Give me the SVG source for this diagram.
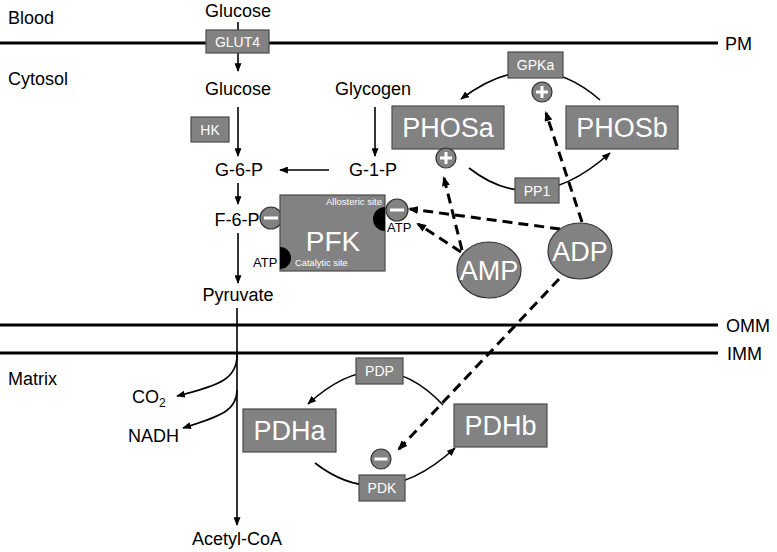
<svg xmlns="http://www.w3.org/2000/svg" width="777" height="552" viewBox="0 0 777 552">
<style>
text{font-family:"Liberation Sans",Arial,sans-serif;fill:#000}
.lbl{font-size:18px}
.c{text-anchor:middle}
.box{fill:#828282;stroke:#4a4a4a;stroke-width:1.2}
.wt{fill:#fff;text-anchor:middle}
.sm{font-size:14px}
.big{font-size:27px}
.mem{stroke:#000;stroke-width:3;fill:none}
.ar{stroke:#000;stroke-width:1.6;fill:none;marker-end:url(#ah)}
.ln{stroke:#000;stroke-width:1.6;fill:none}
.da{stroke:#000;stroke-width:3;fill:none;stroke-dasharray:10,6;marker-end:url(#ahd)}
.sym{fill:#828282;stroke:#333;stroke-width:1.2}
.bar{fill:#fff}
</style>
<defs>
<marker id="ah" viewBox="0 0 10 8" refX="9" refY="4" markerWidth="9" markerHeight="7" markerUnits="userSpaceOnUse" orient="auto"><path d="M0,0 L10,4 L0,8 z" fill="#000"/></marker>
<marker id="ahd" viewBox="0 0 10 8" refX="8" refY="4" markerWidth="10" markerHeight="8" markerUnits="userSpaceOnUse" orient="auto"><path d="M0,0 L10,4 L0,8 z" fill="#000"/></marker>
</defs>
<rect width="777" height="552" fill="#fff"/>

<g id="membranes">
<line class="mem" x1="0" y1="43" x2="718" y2="43"/>
<line class="mem" x1="0" y1="325" x2="718" y2="325"/>
<line class="mem" x1="0" y1="353" x2="718" y2="353"/>
<text class="lbl" x="725" y="50">PM</text>
<text class="lbl" x="726" y="332">OMM</text>
<text class="lbl" x="727" y="360">IMM</text>
<text class="lbl" x="8" y="24">Blood</text>
<text class="lbl" x="8" y="85">Cytosol</text>
<text class="lbl" x="8" y="385">Matrix</text>
</g>

<g id="connectors">
<line class="ln" x1="238" y1="22" x2="238" y2="31"/>
<line class="ar" x1="238" y1="53" x2="238" y2="71"/>
<line class="ar" x1="238" y1="107" x2="238" y2="156"/>
<line class="ar" x1="375" y1="107" x2="375" y2="156"/>
<line class="ar" x1="329" y1="170" x2="280" y2="170"/>
<line class="ar" x1="238" y1="183" x2="238" y2="204"/>
<line class="ar" x1="238" y1="233" x2="238" y2="283"/>
<line class="ar" x1="237" y1="308" x2="237" y2="525"/>
<path class="ar" d="M237,355 C237,378 222,385 177,396"/>
<path class="ar" d="M237,390 C237,410 222,416 183,428"/>
<path class="ar" d="M600,100 Q535,43 461,99"/>
<path class="ar" d="M469,168 Q535,220 610,153"/>
<path class="ar" d="M443,405 Q380,338 308,404"/>
<path class="ar" d="M315,463 Q382,515 455,448"/>
<line class="da" x1="373" y1="219" x2="284" y2="219"/>
<line class="da" x1="560" y1="229" x2="410" y2="209"/>
<line class="da" x1="461" y1="252" x2="418" y2="224"/>
<line class="da" x1="462" y1="250" x2="444" y2="178"/>
<line class="da" x1="582" y1="222" x2="546" y2="113"/>
<line class="da" x1="559" y1="279" x2="399" y2="449"/>
</g>

<g id="glucose-blood"><text class="lbl c" x="238" y="17">Glucose</text></g>
<g id="glut4"><rect class="box" x="206" y="30" width="63" height="23"/><text class="wt sm" x="237.5" y="46.5">GLUT4</text></g>
<g id="glucose-cyt"><text class="lbl c" x="238" y="95">Glucose</text></g>
<g id="hk"><rect class="box" x="191" y="117" width="38" height="25"/><text class="wt sm" x="210" y="134.5">HK</text></g>
<g id="glycogen"><text class="lbl c" x="373" y="95">Glycogen</text></g>
<g id="g6p"><text class="lbl c" x="239" y="176">G-6-P</text></g>
<g id="g1p"><text class="lbl c" x="373" y="176">G-1-P</text></g>
<g id="f6p"><text class="lbl c" x="237" y="226">F-6-P</text></g>
<g id="f6p-minus"><circle class="sym" cx="271" cy="218" r="11"/><rect class="bar" x="264" y="216.5" width="14" height="3"/></g>

<g id="pfk">
<rect class="box" x="280" y="195" width="105" height="76"/>
<path d="M385,207 A12,12 0 0 0 385,231 Z" fill="#000"/>
<path d="M280,247 A11,11 0 0 1 280,269 Z" fill="#000"/>
<text class="wt" style="font-size:9.5px;text-anchor:end" x="382" y="205">Allosteric site</text>
<text class="wt big" style="font-size:28px" x="333" y="251">PFK</text>
<text style="font-size:9.3px;fill:#fff" x="295" y="266">Catalytic site</text>
</g>
<g id="atp-cat"><text style="font-size:13px" x="253" y="267">ATP</text></g>
<g id="atp-allo"><text style="font-size:13px" x="387" y="232">ATP</text></g>
<g id="pfk-minus"><circle class="sym" cx="397" cy="210" r="11"/><rect class="bar" x="390" y="208.5" width="14" height="3"/></g>

<g id="pyruvate"><text class="lbl c" x="238" y="301">Pyruvate</text></g>

<g id="gpka"><rect class="box" x="508" y="52" width="55" height="26"/><text class="wt sm" x="535.5" y="70">GPKa</text></g>
<g id="gpka-plus"><circle class="sym" cx="542" cy="92" r="10"/><rect class="bar" x="536" y="90.5" width="12" height="3"/><rect class="bar" x="540.5" y="86" width="3" height="12"/></g>
<g id="phosa"><rect class="box" x="392" y="106" width="112" height="43"/><text class="wt big" x="448" y="137">PHOSa</text></g>
<g id="phosb"><rect class="box" x="566" y="106" width="112" height="43"/><text class="wt big" x="622" y="137">PHOSb</text></g>
<g id="phosa-plus"><circle class="sym" cx="446" cy="158" r="10"/><rect class="bar" x="440" y="156.5" width="12" height="3"/><rect class="bar" x="444.5" y="152" width="3" height="12"/></g>
<g id="pp1"><rect class="box" x="515" y="178" width="44" height="25"/><text class="wt sm" x="537" y="195.5">PP1</text></g>

<g id="amp"><ellipse class="sym" cx="489" cy="270" rx="32" ry="28"/><text class="wt big" x="489" y="280">AMP</text></g>
<g id="adp"><ellipse class="sym" cx="580" cy="251" rx="32" ry="28"/><text class="wt big" x="580" y="261">ADP</text></g>

<g id="co2"><text class="lbl" x="132" y="403">CO<tspan style="font-size:12px" dy="4">2</tspan></text></g>
<g id="nadh"><text class="lbl" x="128" y="442">NADH</text></g>
<g id="acetylcoa"><text class="lbl c" x="237" y="545">Acetyl-CoA</text></g>

<g id="pdp"><rect class="box" x="356" y="358" width="47" height="26"/><text class="wt sm" x="379.5" y="376">PDP</text></g>
<g id="pdha"><rect class="box" x="243" y="409" width="93" height="43"/><text class="wt big" x="289.5" y="440">PDHa</text></g>
<g id="pdhb"><rect class="box" x="454" y="404" width="93" height="43"/><text class="wt big" x="500.5" y="435">PDHb</text></g>
<g id="pdk"><rect class="box" x="359" y="475" width="46" height="26"/><text class="wt sm" x="382" y="493">PDK</text></g>
<g id="pdk-minus"><circle class="sym" cx="381" cy="459" r="10"/><rect class="bar" x="374.5" y="457.5" width="13" height="3"/></g>
</svg>
